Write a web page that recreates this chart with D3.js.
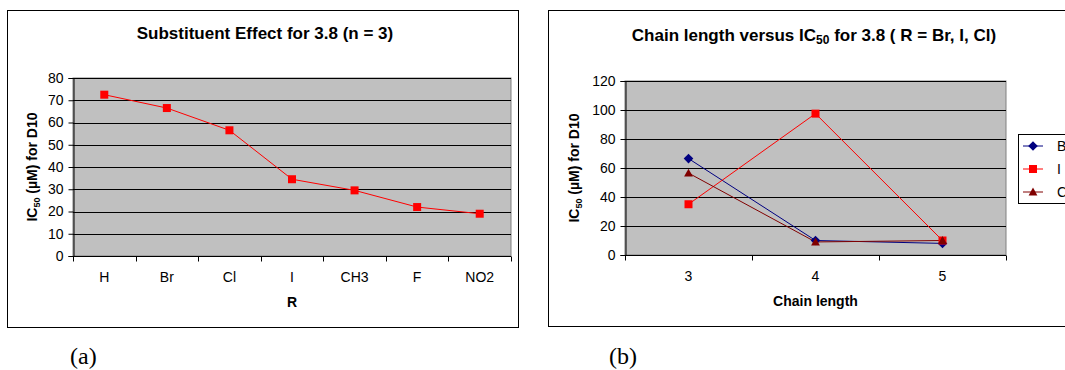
<!DOCTYPE html>
<html><head><meta charset="utf-8">
<script src="https://cdn.jsdelivr.net/npm/d3@7"></script>
<style>body{margin:0;background:#fff}svg{display:block;font-family:"Liberation Sans",Arial,sans-serif}</style>
</head><body>
<svg id="c" width="1065" height="370"></svg>
<script>
// Panel (a)
const subCats = ["H","Br","Cl","I","CH3","F","NO2"];
const subVals = [72.5,66.5,56.5,34.5,29.5,22,19];
const aTicks = [0,10,20,30,40,50,60,70,80];
// Panel (b)
const chainCats = ["3","4","5"];
const brVals = [66.5,10,8];
const iVals = [35,97.5,10];
const clVals = [56.5,9,10];
const bTicks = [0,20,40,60,80,100,120];
const seriesNames = ["Br","I","Cl"];
const seriesColors = ["#000080","#ff0000","#800000"];

const svg = d3.select("#c");

function panel(o){
  const g = svg.append("g");
  g.append("rect").attr("x",o.bx).attr("y",o.by).attr("width",o.bw).attr("height",o.bh)
    .attr("fill","#fff").attr("stroke","#000").attr("stroke-width",1);
  const x = d3.scaleBand().domain(o.cats).range([o.x0,o.x1]);
  const y = d3.scaleLinear().domain([0,o.ymax]).range([o.y0,o.y1]);
  g.append("rect").attr("x",o.x0).attr("y",o.y1).attr("width",o.x1-o.x0).attr("height",o.y0-o.y1)
    .attr("fill","#c0c0c0").attr("stroke","#808080");
  g.append("g").selectAll("line").data(o.ticks.filter(t=>t>0)).join("line")
    .attr("x1",o.x0).attr("x2",o.x1).attr("y1",d=>Math.round(y(d))+0.5).attr("y2",d=>Math.round(y(d))+0.5)
    .attr("stroke","#000").attr("stroke-width",1);
  const ya = g.append("g").attr("transform",`translate(${o.x0+0.5},0)`)
    .call(d3.axisLeft(y).tickValues(o.ticks).tickSize(5).tickPadding(5));
  ya.selectAll("text").attr("font-size",14).attr("fill","#000").attr("font-family","Liberation Sans, Arial");
  ya.select(".domain").attr("stroke","#000");
  const xa = g.append("g").attr("transform",`translate(0,${o.y0+0.5})`);
  xa.append("line").attr("x1",o.x0).attr("x2",o.x1).attr("stroke","#000");
  const bounds = o.cats.map(c=>x(c)).concat([o.x1]);
  xa.selectAll("line.t").data(bounds).join("line").attr("class","t")
    .attr("x1",d=>Math.round(d)+0.5).attr("x2",d=>Math.round(d)+0.5).attr("y1",0).attr("y2",5).attr("stroke","#000");
  xa.selectAll("text").data(o.cats).join("text")
    .attr("x",d=>x(d)+x.bandwidth()/2).attr("y",25).attr("text-anchor","middle")
    .attr("font-size",14).text(d=>d);
  g.append("text").attr("x",o.tx).attr("y",o.ty).attr("text-anchor","middle")
    .attr("font-size",17).attr("font-weight","bold").html(o.title);
  g.append("text").attr("x",(o.x0+o.x1)/2).attr("y",o.y0+51).attr("text-anchor","middle")
    .attr("font-size",14).attr("font-weight","bold").text(o.xlabel);
  g.append("text").attr("transform",`translate(${o.ylx},${(o.y0+o.y1)/2}) rotate(-90)`)
    .attr("text-anchor","middle").attr("font-size",14).attr("font-weight","bold")
    .html('IC<tspan font-size="9" dy="3">50</tspan><tspan dy="-3"> (µM) for D10</tspan>');
  return {g,x,y};
}

function marker(g, type, cx, cy, color, s){
  if(type==="square"){
    g.append("rect").attr("x",cx-s/2).attr("y",cy-s/2).attr("width",s).attr("height",s).attr("fill",color);
  } else if(type==="diamond"){
    const h = s*0.6;
    g.append("path").attr("d",`M${cx},${cy-h}L${cx+h},${cy}L${cx},${cy+h}L${cx-h},${cy}Z`).attr("fill",color);
  } else {
    const h = s*0.55;
    g.append("path").attr("d",`M${cx},${cy-h}L${cx+h},${cy+h*0.8}L${cx-h},${cy+h*0.8}Z`).attr("fill",color);
  }
}

// Panel a
const A = panel({bx:7.5,by:10.5,bw:511,bh:317,x0:73,x1:511,y0:256,y1:78,ymax:80,cats:subCats,ticks:aTicks,
  tx:265,ty:39,title:"Substituent Effect for 3.8 (n = 3)",xlabel:"R",ylx:37});
const lineA = d3.line().x((d,i)=>A.x(subCats[i])+A.x.bandwidth()/2).y(d=>A.y(d));
A.g.append("path").attr("d",lineA(subVals)).attr("fill","none").attr("stroke","#ff0000").attr("stroke-width",1);
subVals.forEach((v,i)=>marker(A.g,"square",A.x(subCats[i])+A.x.bandwidth()/2,A.y(v),"#ff0000",8));

// Panel b
const B = panel({bx:548.5,by:10.5,bw:530,bh:316,x0:625,x1:1006,y0:255,y1:81,ymax:120,cats:chainCats,ticks:bTicks,
  tx:814,ty:41,title:'Chain length versus IC<tspan font-size="12" dy="3">50</tspan><tspan dy="-3"> for 3.8 ( R = Br, I, Cl)</tspan>',
  xlabel:"Chain length",ylx:579});
const allB = [brVals,iVals,clVals];
const types = ["diamond","square","triangle"];
const lineB = d3.line().x((d,i)=>B.x(chainCats[i])+B.x.bandwidth()/2).y(d=>B.y(d));
allB.forEach((vals,k)=>{
  B.g.append("path").attr("d",lineB(vals)).attr("fill","none").attr("stroke",seriesColors[k]).attr("stroke-width",1);
});
allB.forEach((vals,k)=>{
  vals.forEach((v,i)=>marker(B.g,types[k],B.x(chainCats[i])+B.x.bandwidth()/2,B.y(v),seriesColors[k],8));
});
// legend (cut off at right edge, as in the reference)
const lg = B.g.append("g");
lg.append("rect").attr("x",1018.5).attr("y",134.5).attr("width",60).attr("height",69).attr("fill","#fff").attr("stroke","#000");
seriesNames.forEach((n,k)=>{
  const yy = 146 + k*23;
  lg.append("line").attr("x1",1023).attr("x2",1043).attr("y1",yy).attr("y2",yy).attr("stroke",seriesColors[k]);
  marker(lg,types[k],1033,yy,seriesColors[k],8);
  lg.append("text").attr("x",1057).attr("y",yy+5).attr("font-size",14).text(n);
});

// captions
svg.append("text").attr("x",70).attr("y",364).attr("font-family","Liberation Serif, Times New Roman, serif").attr("font-size",24).text("(a)");
svg.append("text").attr("x",609).attr("y",364).attr("font-family","Liberation Serif, Times New Roman, serif").attr("font-size",24).text("(b)");
</script>
</body></html>
